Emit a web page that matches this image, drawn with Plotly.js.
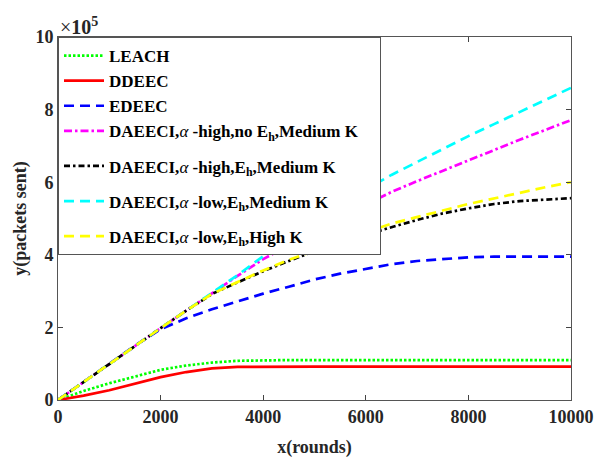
<!DOCTYPE html>
<html>
<head>
<meta charset="utf-8">
<script src="https://cdn.plot.ly/plotly-3.0.1.min.js"></script>
<style>body{margin:0;background:#fff}#chart{width:595px;height:460px}</style>
</head>
<body>
<div id="chart"></div>
<script>
// rounds (x) and packets sent (y, in units of 10^5)
const rounds = [0,500,1000,1500,2000,2500,3000,3500,4000,4500,5000,5500,6000,6500,7000,7500,8000,8500,9000,9500,10000];
const leach  = [0,0.25,0.46,0.65,0.83,0.95,1.03,1.08,1.10,1.10,1.10,1.10,1.10,1.10,1.10,1.10,1.10,1.10,1.10,1.10,1.10];
const ddeec  = [0,0.12,0.27,0.45,0.63,0.77,0.87,0.91,0.92,0.92,0.92,0.92,0.92,0.92,0.92,0.92,0.92,0.92,0.92,0.92,0.92];
const edeec  = [0,0.5,1.0,1.5,1.95,2.25,2.5,2.72,2.93,3.12,3.32,3.48,3.62,3.74,3.83,3.89,3.93,3.95,3.95,3.95,3.95];
const highNoEhMedK = [0,0.5,1.0,1.5,1.98,2.46,2.95,3.42,3.88,4.28,4.66,5.03,5.39,5.73,6.03,6.32,6.60,6.88,7.17,7.44,7.71];
const highEhMedK   = [0,0.5,1.0,1.5,1.98,2.46,2.92,3.24,3.55,3.83,4.10,4.34,4.56,4.76,4.96,5.14,5.28,5.40,5.48,5.53,5.56];
const lowEhMedK    = [0,0.5,1.0,1.5,1.98,2.46,2.95,3.44,3.96,4.45,4.93,5.37,5.80,6.20,6.56,6.92,7.27,7.60,7.94,8.27,8.60];
const lowEhHighK   = [0,0.5,1.0,1.5,1.98,2.46,2.92,3.25,3.57,3.86,4.12,4.37,4.62,4.86,5.05,5.22,5.40,5.56,5.72,5.86,6.00];
const xTicks = [0,2000,4000,6000,8000,10000];
const xTickText = ['0','2000','4000','6000','8000','10000'];
const yTicks = [0,2,4,6,8,10];

const A = '<span style="font-weight:normal;font-style:italic">α</span>';
const names = [
  'LEACH',
  'DDEEC',
  'EDEEC',
  'DAEECI,' + A + ' -high,no E<sub>h</sub>,Medium K&nbsp;&nbsp;&nbsp;&nbsp;',
  'DAEECI,' + A + ' -high,E<sub>h</sub>,Medium K',
  'DAEECI,' + A + ' -low,E<sub>h</sub>,Medium K',
  'DAEECI,' + A + ' -low,E<sub>h</sub>,High K'
];
const groups = ['a','a','a','a','b','c','d'];
const series = [leach, ddeec, edeec, highNoEhMedK, highEhMedK, lowEhMedK, lowEhHighK];
const colors = ['#00ff00','#ff0000','#0000ff','#ff00ff','#000000','#00ffff','#ffff00'];
const dashes = ['2.5px,2px','solid','10px,6px','8px,3px,2.5px,3px','6px,3px,2.5px,3px','10px,6px','10px,6px'];

const traces = series.map((ys, i) => ({
  x: rounds, y: ys, name: names[i], type: 'scatter', mode: 'lines',
  legendgroup: groups[i],
  line: {color: colors[i], width: 2.7, dash: dashes[i]}
}));

const FAM = '"Liberation Serif", "Times New Roman", Times, serif';
const font = {family: FAM, size: 18, color: '#262626', weight: 'bold'};
const axisCommon = {
  showline: true, linecolor: '#555', linewidth: 1, mirror: 'ticks',
  ticks: 'inside', ticklen: 5, tickcolor: '#444', showgrid: false, zeroline: false,
  tickfont: font
};
const layout = {
  width: 595, height: 460,
  margin: {l: 58, r: 24, t: 37, b: 60},
  paper_bgcolor: '#fff', plot_bgcolor: '#fff',
  font: font,
  showlegend: true,
  xaxis: Object.assign({}, axisCommon, {range: [0, 10000], tickvals: xTicks, ticktext: xTickText,
    title: {text: 'x(rounds)', font: font, standoff: 14}}),
  yaxis: Object.assign({}, axisCommon, {range: [0, 10], tickvals: yTicks,
    title: {text: 'y(packets sent)', font: font, standoff: 4}}),
  legend: {
    x: 0, y: 1, xanchor: 'left', yanchor: 'top',
    bgcolor: '#fff', bordercolor: '#555', borderwidth: 1,
    font: {family: FAM, size: 17, color: '#000', weight: 'bold'},
    itemwidth: 40, tracegroupgap: 10, traceorder: 'grouped'
  },
  annotations: [{
    xref: 'paper', yref: 'paper', x: 0, y: 1, xanchor: 'left', yanchor: 'bottom',
    text: '<span style="font-weight:normal">×</span>10<sup>5</sup>', showarrow: false,
    font: {family: FAM, size: 20, color: '#262626', weight: 'bold'}, yshift: -3
  }]
};
Plotly.newPlot('chart', traces, layout, {displayModeBar: false, staticPlot: true});
</script>
</body>
</html>
